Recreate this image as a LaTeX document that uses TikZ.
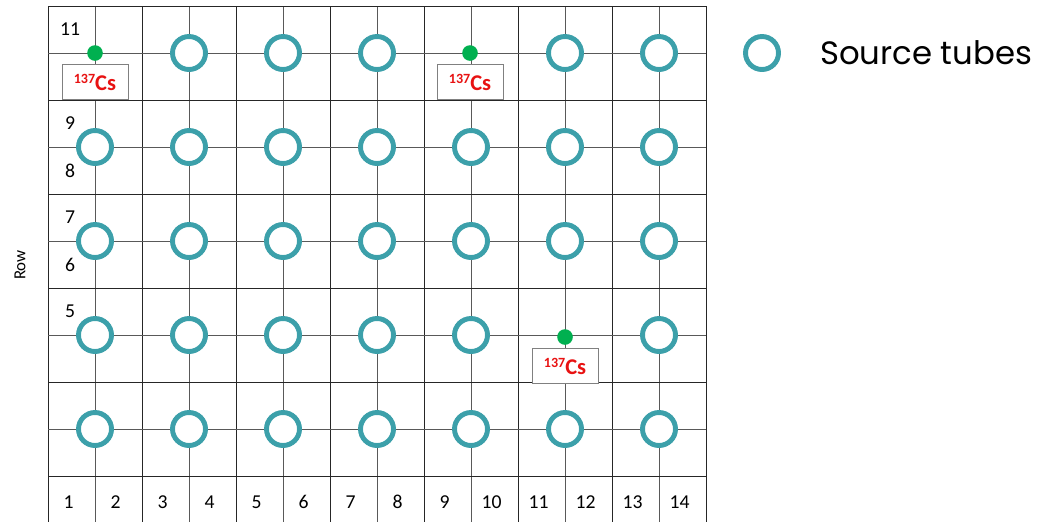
\documentclass[tikz,border=0pt]{standalone}
\usepackage{fontspec}
\setmainfont{Carlito}
\newfontfamily\legendfont{Poppins}
\usetikzlibrary{positioning}
\definecolor{TubeTeal}{RGB}{60,160,170}
\definecolor{SourceGreen}{RGB}{0,176,80}
\definecolor{CsRed}{RGB}{232,18,18}
\definecolor{BoxGray}{RGB}{128,128,128}
\tikzset{
  major/.style={draw=black!85,line width=0.6pt},
  minor/.style={draw=black!65,line width=0.45pt},
  tube/.style={circle,draw=TubeTeal,fill=white,line width=3.5pt,
    minimum size=0.825cm,inner sep=0pt},
  source/.style={circle,fill=SourceGreen,minimum size=0.39cm,inner sep=0pt},
  csbox/.style={draw=BoxGray,fill=white,line width=0.7pt,minimum width=1.65cm,
    minimum height=0.87cm,inner sep=0pt,text=CsRed,font=\bfseries\fontsize{16}{18}\selectfont},
  gridlabel/.style={inner sep=0pt,font=\fontsize{14}{16}\selectfont},
  legendtext/.style={inner sep=0pt,font=\legendfont\fontsize{23}{26}\selectfont}
}
\newcommand{\cesium}{\raisebox{5pt}{\fontsize{10}{10}\selectfont 137}Cs}

\begin{document}
\begin{tikzpicture}[x=0.025cm,y=-0.025cm]
  \useasboundingbox[fill=white] (0,0) rectangle (1040,522);
  % grid: heavy lines every second cell
  \foreach \i in {0,2,...,14} \draw[major] (48+47*\i,6) -- (48+47*\i,522);
  \foreach \i in {1,3,...,13} \draw[minor] (48+47*\i,6) -- (48+47*\i,522);
  \foreach \j in {0,2,...,10} \draw[major] (48,6+47*\j) -- (706,6+47*\j);
  \foreach \j in {1,3,...,9} \draw[minor] (48,6+47*\j) -- (706,6+47*\j);

  % row and column numbers
  \foreach \j/\txt in {0/11,2/9,3/8,4/7,5/6,6/5}
    \node[gridlabel] (row\txt) at (70,29.5+47*\j) {\txt};
  \foreach \c in {1,...,14}
    \node[gridlabel] (col\c) at (21.5+47*\c,502) {\c};
  \node[rotate=90,inner sep=0pt,font=\fontsize{12}{14}\selectfont] (rowtitle) at (20,265) {Row};

  % source tubes
  \foreach \r/\cols in {1/{3,5,7,11,13},3/{1,3,5,7,9,11,13},5/{1,3,5,7,9,11,13},
      7/{1,3,5,7,9,13},9/{1,3,5,7,9,11,13}}
    \foreach \c in \cols
      \node[tube] (t\c-\r) at (48+47*\c,6+47*\r) {};

  % Cs-137 sources
  \node[source] (src1) at (95,53) {};
  \node[source] (src2) at (470,53) {};
  \node[source] (src3) at (565,337) {};
  \node[csbox,below=0.08cm of src1] (cs1) {\cesium};
  \node[csbox,below=0.08cm of src2] (cs2) {\cesium};
  \node[csbox,below=0.08cm of src3] (cs3) {\cesium};

  % legend
  \node[tube] (key) at (762,53) {};
  \node[legendtext,right=0.97cm of key] (keytext) {Source tubes};
\end{tikzpicture}
\end{document}
